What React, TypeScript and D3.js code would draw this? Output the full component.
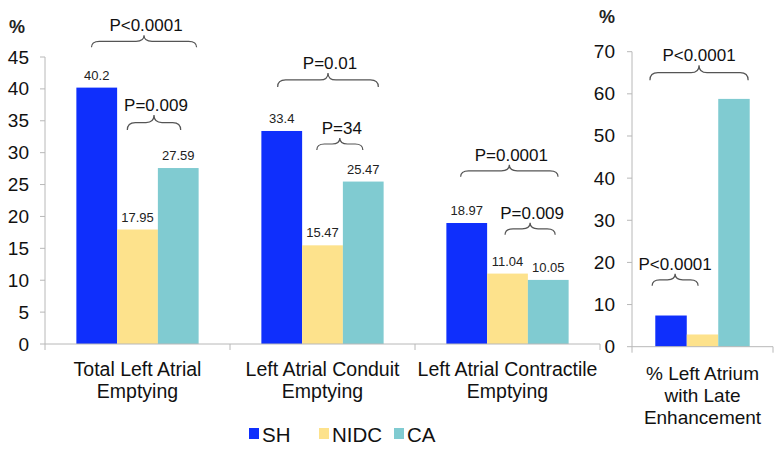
import * as d3 from "d3"
import { useRef, useEffect } from "react"

// emptying fractions per group (left panel)
const categories = [
  ["Total Left Atrial", "Emptying"],
  ["Left Atrial Conduit", "Emptying"],
  ["Left Atrial Contractile", "Emptying"],
]
const series = ["SH", "NIDC", "CA"]
const shValues = [40.2, 33.4, 18.97]
const nidcValues = [17.95, 15.47, 11.04]
const caValues = [27.59, 25.47, 10.05]
const leftTicks = [0, 5, 10, 15, 20, 25, 30, 35, 40, 45]

// late enhancement (right panel)
const lgeCategory = ["% Left Atrium", "with Late", "Enhancement"]
const lgeValues = [7.4, 2.9, 58.8]
const rightTicks = [0, 10, 20, 30, 40, 50, 60, 70]

// p-value braces: group index, start/end in bar units, top in value units, depth px
const leftBraces = [
  { group: 0, from: 0.37, to: 2.95, top: 48.4, depth: 12, label: "P<0.0001" },
  { group: 0, from: 1.25, to: 2.56, top: 35.9, depth: 15, label: "P=0.009" },
  { group: 1, from: 0.4, to: 2.87, top: 42.5, depth: 14, label: "P=0.01" },
  { group: 1, from: 1.36, to: 2.49, top: 32.3, depth: 12, label: "P=34" },
  { group: 2, from: 0.35, to: 2.74, top: 28.1, depth: 12, label: "P=0.0001" },
  { group: 2, from: 1.44, to: 2.67, top: 19.0, depth: 12, label: "P=0.009" },
]
const rightBraces = [
  { from: -0.17, to: 2.95, top: 66.8, depth: 15, label: "P<0.0001" },
  { from: -0.1, to: 1.36, top: 17.3, depth: 12, label: "P<0.0001" },
]

const colors = ["#0f2ffc", "#fde28c", "#80cbd1"]
const font = "'Liberation Sans', Arial, sans-serif"

const bracePath = (x1, x2, yTop, depth) => {
  const yEnd = yTop + depth
  const yMid = yTop + depth * 0.5
  const xc = (x1 + x2) / 2
  const r = Math.min(8, (x2 - x1) / 6)
  return `M${x1},${yEnd} Q${x1},${yMid} ${x1 + r},${yMid} L${xc - r},${yMid} Q${xc},${yMid} ${xc},${yTop} Q${xc},${yMid} ${xc + r},${yMid} L${x2 - r},${yMid} Q${x2},${yMid} ${x2},${yEnd}`
}

const App = () => {
  const svgRef = useRef(null)
  const width = 781
  const height = 451

  useEffect(() => {
    const svg = d3.select(svgRef.current)
    svg.selectAll("*").remove()

    const valuesBySeries = [shValues, nidcValues, caValues]

    // ---------- left panel ----------
    const x0 = d3.scaleBand().domain(d3.range(categories.length)).range([45, 600])
    const x1 = d3.scaleBand().domain(series).range([0, x0.bandwidth()]).paddingOuter(0.77)
    const y = d3.scaleLinear().domain([0, 45]).range([344, 57])

    const left = svg.append("g")

    // y axis
    left.append("line").attr("x1", 45).attr("x2", 45).attr("y1", y(45)).attr("y2", y(0))
      .attr("stroke", "#b8b8b8")
    leftTicks.forEach((t) => {
      left.append("line").attr("x1", 40).attr("x2", 45).attr("y1", y(t)).attr("y2", y(t))
        .attr("stroke", "#b8b8b8")
      left.append("text").attr("x", 29).attr("y", y(t) + 6.5).attr("text-anchor", "end")
        .attr("font-size", 19).attr("font-family", font).attr("fill", "#111").text(t)
    })

    // bars
    categories.forEach((cat, gi) => {
      const g = left.append("g").attr("transform", `translate(${x0(gi)},0)`)
      series.forEach((s, si) => {
        const v = valuesBySeries[si][gi]
        g.append("rect").attr("x", x1(s)).attr("y", y(v)).attr("width", x1.bandwidth())
          .attr("height", y(0) - y(v)).attr("fill", colors[si])
        g.append("text").attr("x", x1(s) + x1.bandwidth() / 2).attr("y", y(v) - 8)
          .attr("text-anchor", "middle").attr("font-size", 13).attr("font-family", font)
          .attr("fill", "#222").text(v)
      })
      cat.forEach((line, li) => {
        left.append("text").attr("x", x0(gi) + x0.bandwidth() / 2).attr("y", 376 + li * 22)
          .attr("text-anchor", "middle").attr("font-size", 19.5).attr("font-family", font)
          .attr("fill", "#111").text(line)
      })
    })

    // x axis
    left.append("line").attr("x1", 45).attr("x2", 600).attr("y1", y(0)).attr("y2", y(0))
      .attr("stroke", "#b8b8b8")
    d3.range(categories.length + 1).forEach((i) => {
      const xx = 45 + i * x0.step()
      left.append("line").attr("x1", xx).attr("x2", xx).attr("y1", y(0)).attr("y2", y(0) + 6)
        .attr("stroke", "#b8b8b8")
    })

    // braces
    leftBraces.forEach((b) => {
      const start = x0(b.group) + x1(series[0])
      const bx1 = start + b.from * x1.step()
      const bx2 = start + b.to * x1.step()
      left.append("path").attr("d", bracePath(bx1, bx2, y(b.top), b.depth))
        .attr("fill", "none").attr("stroke", "#555").attr("stroke-width", 1.2)
      left.append("text").attr("x", (bx1 + bx2) / 2 + 2).attr("y", y(b.top) - 4)
        .attr("text-anchor", "middle").attr("font-size", 17).attr("font-family", font)
        .attr("fill", "#111").text(b.label)
    })

    svg.append("text").attr("x", 9).attr("y", 33).attr("font-size", 18).attr("font-weight", "bold")
      .attr("font-family", font).attr("fill", "#222").text("%")

    // ---------- right panel ----------
    const xr = d3.scaleBand().domain(series).range([632, 773]).paddingOuter(0.74)
    const yr = d3.scaleLinear().domain([0, 70]).range([346.7, 51.7])
    const right = svg.append("g")

    right.append("line").attr("x1", 632).attr("x2", 632).attr("y1", yr(70)).attr("y2", yr(0))
      .attr("stroke", "#b8b8b8")
    rightTicks.forEach((t) => {
      right.append("line").attr("x1", 627).attr("x2", 632).attr("y1", yr(t)).attr("y2", yr(t))
        .attr("stroke", "#b8b8b8")
      right.append("text").attr("x", 615).attr("y", yr(t) + 6.5).attr("text-anchor", "end")
        .attr("font-size", 19).attr("font-family", font).attr("fill", "#111").text(t)
    })
    series.forEach((s, si) => {
      const v = lgeValues[si]
      right.append("rect").attr("x", xr(s)).attr("y", yr(v)).attr("width", xr.bandwidth())
        .attr("height", yr(0) - yr(v)).attr("fill", colors[si])
    })
    right.append("line").attr("x1", 632).attr("x2", 773).attr("y1", yr(0)).attr("y2", yr(0))
      .attr("stroke", "#b8b8b8")
    ;[632, 773].forEach((xx) => {
      right.append("line").attr("x1", xx).attr("x2", xx).attr("y1", yr(0)).attr("y2", yr(0) + 6)
        .attr("stroke", "#b8b8b8")
    })
    lgeCategory.forEach((line, li) => {
      right.append("text").attr("x", 702.5).attr("y", 380 + li * 22)
        .attr("text-anchor", "middle").attr("font-size", 19).attr("font-family", font)
        .attr("fill", "#111").text(line)
    })
    rightBraces.forEach((b) => {
      const start = xr(series[0])
      const bx1 = start + b.from * xr.step()
      const bx2 = start + b.to * xr.step()
      right.append("path").attr("d", bracePath(bx1, bx2, yr(b.top), b.depth))
        .attr("fill", "none").attr("stroke", "#555").attr("stroke-width", 1.2)
      right.append("text").attr("x", (bx1 + bx2) / 2).attr("y", yr(b.top) - 4)
        .attr("text-anchor", "middle").attr("font-size", 17).attr("font-family", font)
        .attr("fill", "#111").text(b.label)
    })
    svg.append("text").attr("x", 599).attr("y", 23).attr("font-size", 18).attr("font-weight", "bold")
      .attr("font-family", font).attr("fill", "#222").text("%")

    // ---------- legend ----------
    const legendX = [249, 319, 394]
    series.forEach((s, si) => {
      svg.append("rect").attr("x", legendX[si]).attr("y", 428).attr("width", 10).attr("height", 11)
        .attr("fill", colors[si])
      svg.append("text").attr("x", legendX[si] + 13).attr("y", 442).attr("font-size", 20.5)
        .attr("font-family", font).attr("fill", "#111").text(s)
    })
  }, [])

  return (
    <div style={{ position: "absolute", left: 0, top: 0 }}>
      <svg ref={svgRef} width={width} height={height} style={{ display: "block", background: "#fff" }}></svg>
    </div>
  )
}

export default App
